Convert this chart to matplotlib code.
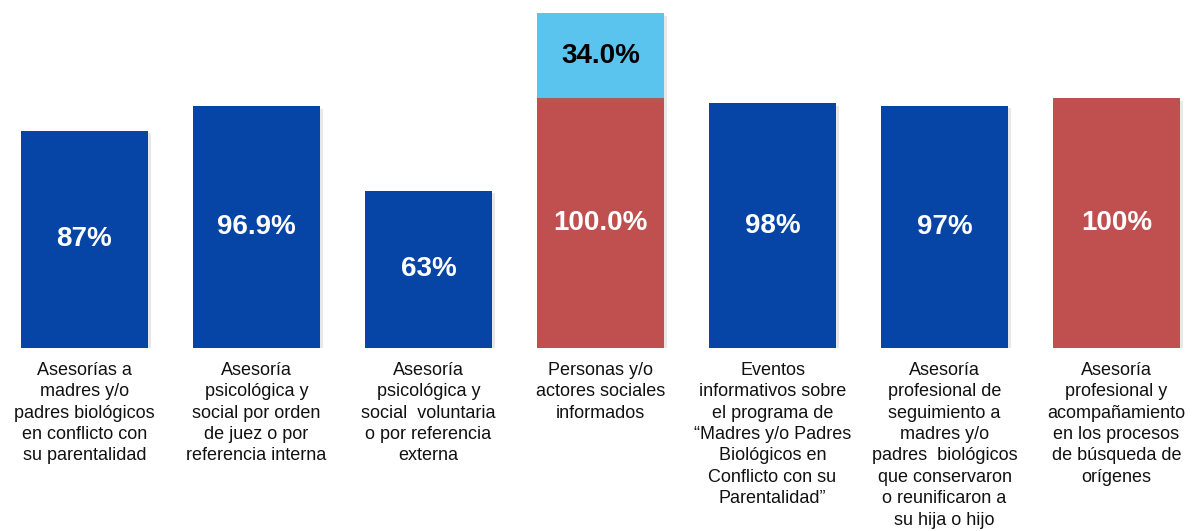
import matplotlib.pyplot as plt
import matplotlib.patheffects as pe

plt.rcParams['font.family'] = ['Liberation Sans', 'DejaVu Sans']

categories = [
    'Asesorías a\nmadres y/o\npadres biológicos\nen conflicto con\nsu parentalidad',
    'Asesoría\npsicológica y\nsocial por orden\nde juez o por\nreferencia interna',
    'Asesoría\npsicológica y\nsocial  voluntaria\no por referencia\nexterna',
    'Personas y/o\nactores sociales\ninformados',
    'Eventos\ninformativos sobre\nel programa de\n“Madres y/o Padres\nBiológicos en\nConflicto con su\nParentalidad”',
    'Asesoría\nprofesional de\nseguimiento a\nmadres y/o\npadres  biológicos\nque conservaron\no reunificaron a\nsu hija o hijo',
    'Asesoría\nprofesional y\nacompañamiento\nen los procesos\nde búsqueda de\norígenes',
]
values = [87, 96.9, 63, 100.0, 98, 97, 100]
value_labels = ['87%', '96.9%', '63%', '100.0%', '98%', '97%', '100%']
extra = [0, 0, 0, 34.0, 0, 0, 0]
extra_labels = ['', '', '', '34.0%', '', '', '']

blue = '#0645A6'
red = '#C0504F'
light = '#5AC3EE'
colors = [blue, blue, blue, red, blue, blue, red]

fig = plt.figure(figsize=(11.96, 5.31), dpi=100)
ax = fig.add_axes([0, 0.3446, 1, 0.6554])

# soft drop shadow like the original
shadow = [pe.SimplePatchShadow(offset=(2, -2), alpha=0.18, shadow_rgbFace='gray'), pe.Normal()]

x = list(range(len(values)))
bars = ax.bar(x, values, width=0.738, color=colors)
for b in bars:
    b.set_path_effects(shadow)
for i, v in enumerate(values):
    ax.text(i, v / 2, value_labels[i], ha='center', va='center', color='white',
            fontsize=20, fontweight='bold')
    if extra[i] > 0:
        eb = ax.bar(i, extra[i], bottom=v, width=0.738, color=light)
        eb[0].set_path_effects(shadow)
        ax.text(i, v + extra[i] / 2, extra_labels[i], ha='center', va='center',
                color='black', fontsize=20, fontweight='bold')
    ax.text(i, -5.5, categories[i], ha='center', va='top', fontsize=13,
            linespacing=1.34, color='#111111')

ax.set_xlim(-0.491, 6.462)
ax.set_ylim(0, 139.2)
ax.axis('off')

fig.savefig('out.png', dpi=100)
